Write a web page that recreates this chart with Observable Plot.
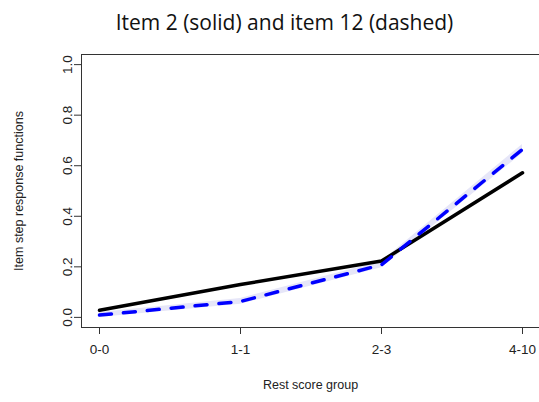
<!DOCTYPE html>
<html>
<head>
<meta charset="utf-8">
<script src="https://cdn.jsdelivr.net/npm/d3@7"></script>
<script src="https://cdn.jsdelivr.net/npm/@observablehq/plot@0.6"></script>
<style>
  html, body { margin: 0; padding: 0; background: #fff; }
  #wrap { position: relative; width: 539px; height: 402px; overflow: hidden; }
  #title { position: absolute; left: 0; top: 0; width: 539px; height: 40px; text-align: center;
           font-family: "Open Sans", "Noto Sans", sans-serif; font-size: 21px; line-height: 44px; color: #111;
           text-indent: 30px; }
  #chart { position: absolute; left: 0; top: 40px; }
</style>
</head>
<body>
<div id="wrap">
  <div id="title">Item 2 (solid) and item 12 (dashed)</div>
  <div id="chart"></div>
</div>
<script>
const groups = ["0-0", "1-1", "2-3", "4-10"];
const item2 = [0.028, 0.13, 0.223, 0.572];
const item12 = [0.009, 0.063, 0.208, 0.665];
const item12Lower = [0.0, 0.052, 0.196, 0.648];
const item12Upper = [0.019, 0.075, 0.221, 0.684];
const yTicks = [0, 0.2, 0.4, 0.6, 0.8, 1.0];

const solid = groups.map((g, i) => ({g, v: item2[i]}));
const dashed = groups.map((g, i) => ({g, v: item12[i], lo: item12Lower[i], hi: item12Upper[i]}));

const font = "'Liberation Sans', Arial, sans-serif";

const chart = Plot.plot({
  width: 539,
  height: 362,
  marginTop: 14,
  marginBottom: 75,
  marginLeft: 81,
  marginRight: 0,
  style: { fontFamily: font, fontSize: "13px", color: "#222", background: "white" },
  x: { type: "point", domain: groups, range: [81, 540], padding: 0.12 },
  y: { domain: [-0.04, 1.04] },
  marks: [
    Plot.areaY(dashed, { x: "g", y1: "lo", y2: "hi", fill: "#e6e6f8", curve: "linear" }),
    Plot.line(solid, { x: "g", y: "v", stroke: "black", strokeWidth: 3.5, strokeLinecap: "round" }),
    Plot.line(dashed, { x: "g", y: "v", stroke: "#0000ff", strokeWidth: 3.5, strokeDasharray: "12,12", strokeLinecap: "round" }),
    Plot.frame({ stroke: "#333", strokeWidth: 1 }),
    Plot.axisX({ ticks: groups, tickSize: 7, tickPadding: 10, fontSize: 13.5, stroke: "#333", color: "#222",
      label: null }),
    Plot.axisY({ ticks: yTicks, tickSize: 7, tickPadding: 3, tickFormat: d3.format(".1f"), tickRotate: -90,
      fontSize: 13.5, stroke: "#333", label: null }),
    Plot.text(["Rest score group"], { frameAnchor: "bottom", dy: 61, fontSize: 12.5, fill: "#222", fontFamily: font }),
    Plot.text(["Item step response functions"], { frameAnchor: "left", dx: -63, rotate: -90, textAnchor: "middle",
      fontSize: 12.5, fill: "#222", fontFamily: font })
  ]
});
document.getElementById("chart").appendChild(chart);
</script>
</body>
</html>
